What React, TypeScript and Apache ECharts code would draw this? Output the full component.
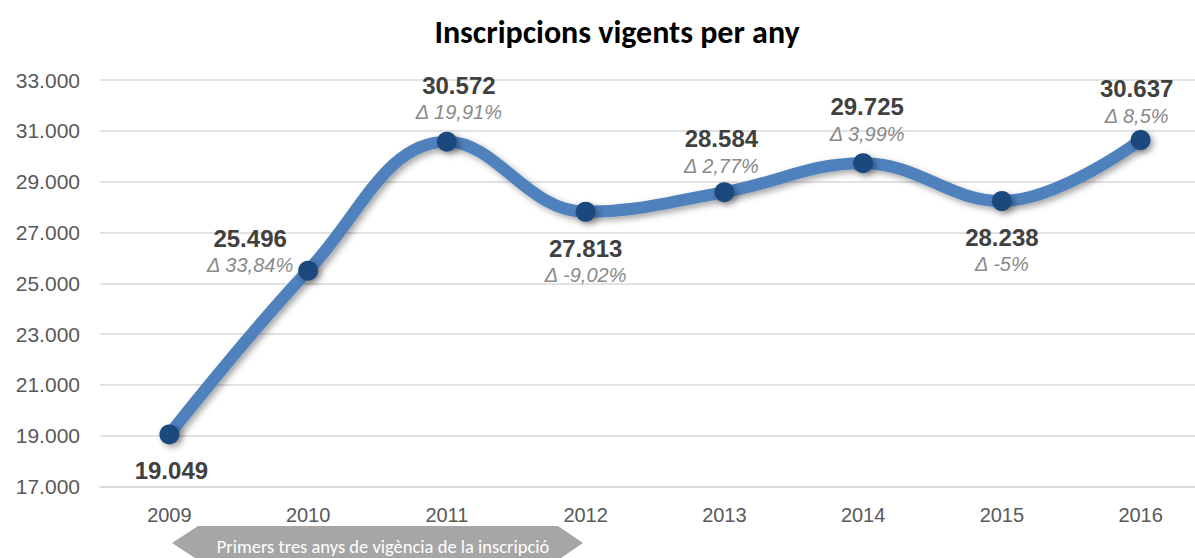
import React, { useEffect, useRef } from "react";
import * as echarts from "echarts";

const years = ["2009", "2010", "2011", "2012", "2013", "2014", "2015", "2016"];
const inscripcions = [19049, 25496, 30572, 27813, 28584, 29725, 28238, 30637];
const deltaLabels = ["", "Δ 33,84%", "Δ 19,91%", "Δ -9,02%", "Δ 2,77%", "Δ 3,99%", "Δ -5%", "Δ 8,5%"];
const titleText = "Inscripcions vigents per any";
const arrowText = "Primers tres anys de vigència de la inscripció";

const fmt = (v: number) => String(v).replace(/\B(?=(\d{3})+(?!\d))/g, ".");

// label placement (style only): "top" or "bottom", plus offset
const placement: { pos: "top" | "bottom"; off: [number, number] }[] = [
  { pos: "bottom", off: [2, 0] },
  { pos: "top", off: [-58, 24] },
  { pos: "top", off: [12, 0] },
  { pos: "bottom", off: [0, 0] },
  { pos: "top", off: [-3, 3] },
  { pos: "top", off: [4, 0] },
  { pos: "bottom", off: [0, 0] },
  { pos: "top", off: [-4, 5] },
];

export default function App() {
  const ref = useRef<HTMLDivElement>(null);
  useEffect(() => {
    document.body.style.margin = "0";
    const chart = echarts.init(ref.current!, undefined, { renderer: "svg" });
    const numFont = "'Liberation Sans', Arial, sans-serif";
    const data = inscripcions.map((v, i) => ({
      value: v,
      label: {
        show: true,
        position: placement[i].pos,
        distance: placement[i].pos === "top" ? 6 : 13,
        offset: placement[i].off,
        formatter: () =>
          deltaLabels[i] ? `{v|${fmt(v)}}\n{d|${deltaLabels[i]}}` : `{v|${fmt(v)}}`,
        rich: {
          v: {
            fontFamily: numFont,
            fontWeight: "bold",
            fontSize: 24,
            color: "#404040",
            lineHeight: 27,
            align: "center",
          },
          d: {
            fontFamily: numFont,
            fontStyle: "italic",
            fontSize: 20,
            color: "#8a8a8a",
            lineHeight: 27,
            align: "center",
          },
        },
      },
    }));
    chart.setOption({
      animation: false,
      backgroundColor: "#ffffff",
      title: {
        text: titleText,
        left: 612,
        textAlign: "center",
        top: 11,
        textStyle: {
          fontFamily: "Carlito, 'Open Sans', sans-serif",
          fontWeight: "bold",
          fontSize: 32,
          color: "#000000",
        },
      },
      grid: {
        left: 100,
        width: 1110,
        top: 80,
        bottom: 71.5,
        containLabel: false,
        outerBoundsMode: "none",
      },
      xAxis: {
        type: "category",
        data: years,
        boundaryGap: true,
        axisLine: { show: true, lineStyle: { color: "#d9d9d9", width: 1.5 } },
        axisTick: { show: false },
        axisLabel: {
          fontFamily: numFont,
          fontSize: 20,
          color: "#595959",
          margin: 18,
        },
      },
      yAxis: {
        type: "value",
        min: 17000,
        max: 33000,
        interval: 2000,
        axisLine: { show: false },
        axisTick: { show: false },
        axisLabel: {
          fontFamily: numFont,
          fontSize: 21,
          color: "#595959",
          margin: 20,
          formatter: (v: number) => fmt(v),
        },
        splitLine: { lineStyle: { color: "#d9d9d9", width: 1.5 } },
      },
      series: [
        {
          type: "line",
          data,
          smooth: 0.4,
          symbol: "circle",
          symbolSize: 20,
          lineStyle: {
            color: "#4F81BD",
            width: 12,
            shadowColor: "rgba(0,0,0,0.35)",
            shadowBlur: 6,
            shadowOffsetX: 3,
            shadowOffsetY: 3,
          },
          itemStyle: {
            color: "#1F497D",
            shadowColor: "rgba(0,0,0,0.35)",
            shadowBlur: 6,
            shadowOffsetX: 3,
            shadowOffsetY: 3,
          },
          z: 3,
        },
      ],
      graphic: [
        {
          type: "polygon",
          shape: {
            points: [
              [172, 543],
              [198, 526],
              [558, 526],
              [583, 543],
              [558, 560],
              [198, 560],
            ],
          },
          style: { fill: "#a6a6a6" },
        },
        {
          type: "text",
          x: 383,
          y: 546,
          style: {
            text: arrowText,
            fill: "#ffffff",
            font: "18.5px Carlito, 'Open Sans', sans-serif",
            textAlign: "center",
            textVerticalAlign: "middle",
          },
        },
      ],
    });
    return () => chart.dispose();
  }, []);
  return <div ref={ref} style={{ width: 1195, height: 558 }} />;
}
